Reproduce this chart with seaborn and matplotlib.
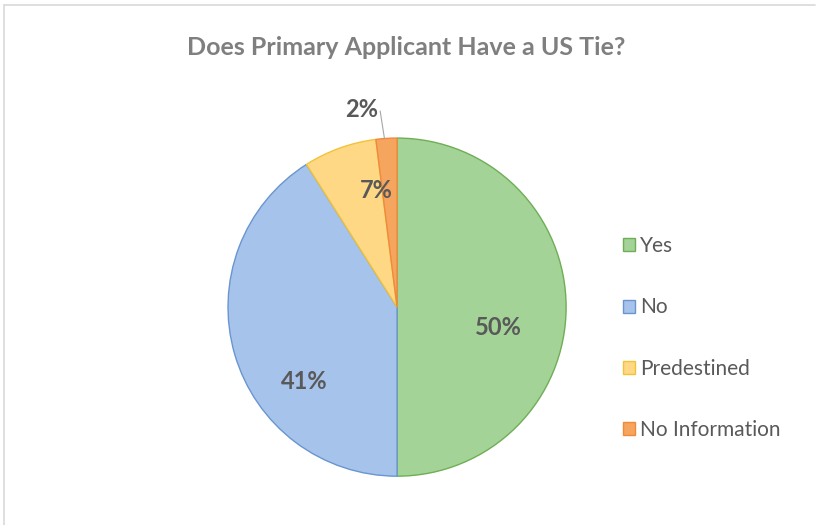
import matplotlib
matplotlib.use("Agg")
import matplotlib.pyplot as plt
import seaborn as sns

categories = ["Yes", "No", "Predestined", "No Information"]
values = [50, 41, 7, 2]
pct_labels = ["50%", "41%", "7%", "2%"]
fills = ["#a3d397", "#a6c3ec", "#fed884", "#f5a55d"]
edges = ["#6fae55", "#6a95cf", "#f2c33a", "#ee8a3a"]

sns.set_theme(style="white")
plt.rcParams['font.family'] = ['Lato', 'DejaVu Sans']

fig = plt.figure(figsize=(8.17, 5.25), dpi=100)
fig.patch.set_facecolor("white")
# frame lines (top and left visible in reference)
fig.add_artist(plt.Line2D([0.005, 0.998], [0.990, 0.990], transform=fig.transFigure, color="#d9d9d9", lw=1.2))
fig.add_artist(plt.Line2D([0.005, 0.005], [0.0, 0.990], transform=fig.transFigure, color="#d9d9d9", lw=1.2))

ax = fig.add_axes([0.279, 0.093, 0.414, 0.644])
wedges, _ = ax.pie(values, colors=fills, startangle=90, counterclock=False,
                   wedgeprops=dict(linewidth=1.0))
for w, ec in zip(wedges, edges):
    w.set_edgecolor(ec)
ax.set_xlim(-1.0, 1.0)
ax.set_ylim(-1.0, 1.0)
ax.set_aspect("equal")

label_pos = [(0.60, -0.12), (-0.55, -0.44), (-0.12, 0.69), (-0.21, 1.17)]
for txt, (x, y) in zip(pct_labels, label_pos):
    ax.text(x, y, txt, ha="center", va="center", fontsize=17, fontweight="bold",
            color="#595959", clip_on=False)
ax.plot([-0.10, -0.075], [1.16, 1.0], color="#a6a6a6", lw=0.8, clip_on=False)

fig.text(0.497, 0.91, "Does Primary Applicant Have a US Tie?", ha="center", va="center",
         fontsize=18, fontweight="bold", color="#7f7f7f")

handles = [plt.Rectangle((0, 0), 1, 1, facecolor=f, edgecolor=e, lw=1.0) for f, e in zip(fills, edges)]
leg = fig.legend(handles, categories, loc="center left", bbox_to_anchor=(0.739, 0.356),
                 frameon=False, fontsize=15, labelspacing=1.98, handlelength=0.6,
                 handleheight=0.6, handletextpad=0.25, labelcolor="#595959")

fig.savefig("out.png", dpi=100)
